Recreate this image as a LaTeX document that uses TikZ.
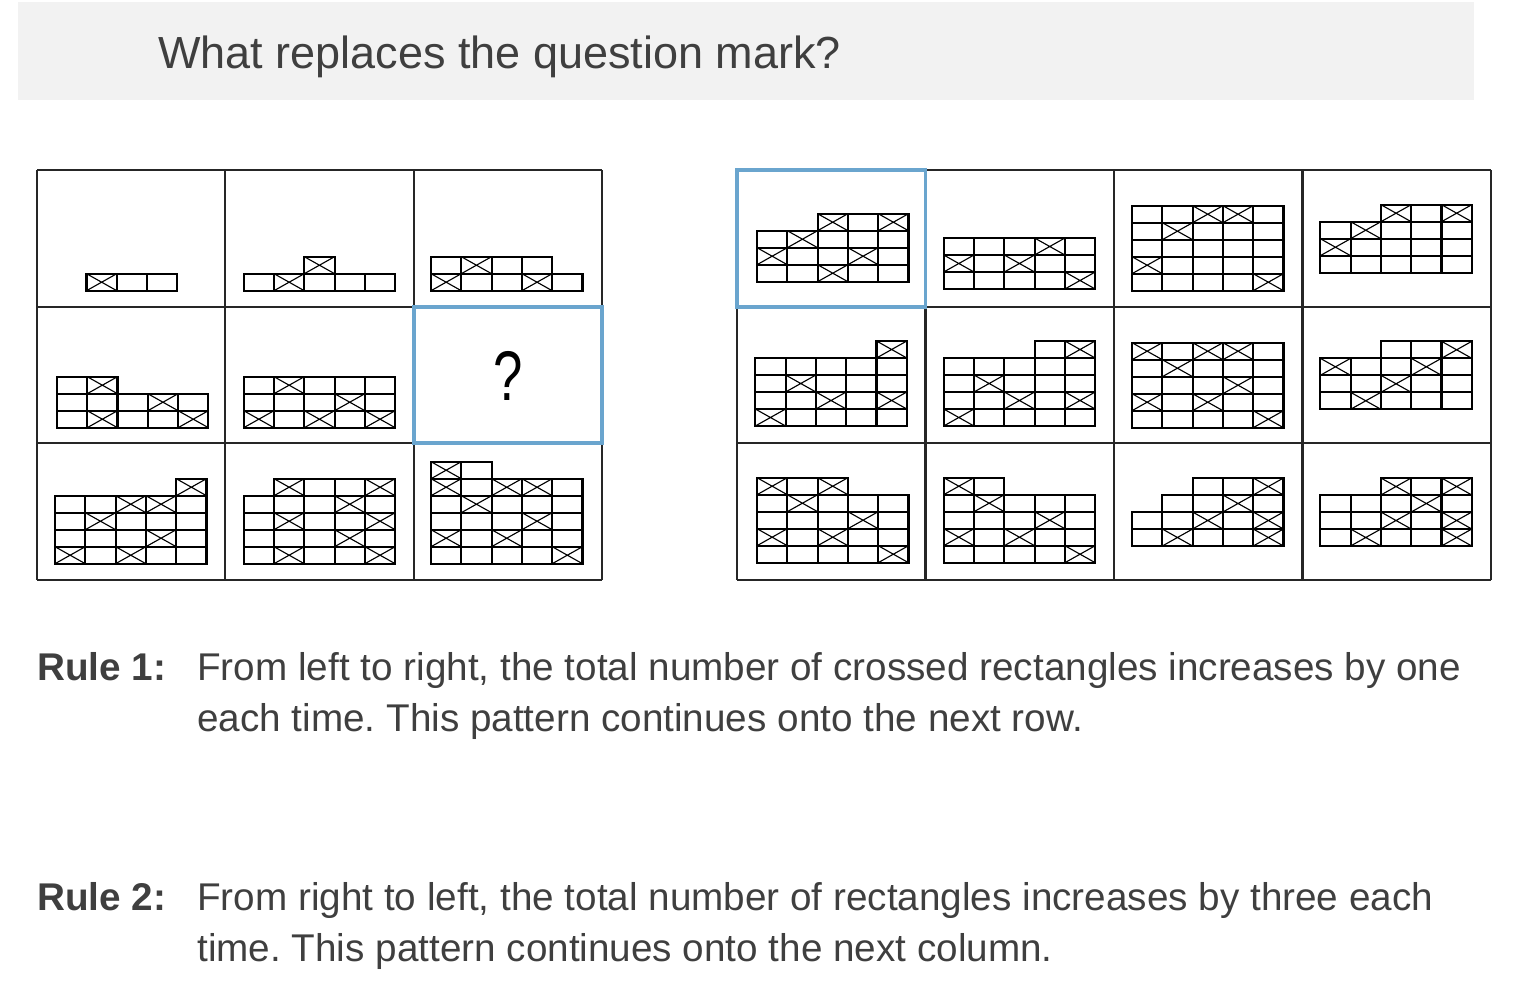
\documentclass[tikz,border=0pt]{standalone}
\usepackage{fontspec}
\setmainfont{Liberation Sans}
\usepackage{tikz}
\frenchspacing

\definecolor{txtgray}{HTML}{3F3F3F}
\definecolor{hdrgray}{HTML}{F2F2F2}
\definecolor{pickblue}{HTML}{6AA5CE}

\newcommand{\blkw}{30.3}
\newcommand{\blkh}{17}
% #1 lower left corner, #2 rows as row/from/to, #3 crossed ones as col/row
\newcommand{\blocks}[3]{%
  \begin{scope}[shift={#1}]
    \foreach \rw/\ca/\cb in {#2}
      \foreach \cx in {\ca,...,\cb}
        \draw[cell] (\cx*\blkw,-\rw*\blkh) rectangle ++(\blkw,-\blkh);
    \foreach \cx/\rw in {#3}
      \draw[cross] (\cx*\blkw,-\rw*\blkh) -- ++(\blkw,-\blkh) ++(-\blkw,0) -- ++(\blkw,\blkh);
  \end{scope}}

\begin{document}
\begin{tikzpicture}[
      x={(0.025cm,0)},  % one pixel to the right
      y={(0,-0.025cm)}, % one pixel down
      board/.style={line width=1.5pt, black!85},
      pick/.style={line width=2.8pt, pickblue},
      cell/.style={line width=1.5pt, black},
      cross/.style={line width=0.8pt, black},
      title/.style={anchor=base west, inner sep=0pt, text=txtgray,
                    font=\fontsize{32}{38}\selectfont},
      rulelbl/.style={anchor=base west, inner sep=0pt, text=txtgray,
                      font=\fontsize{27.5}{33}\selectfont\bfseries},
      ruletxt/.style={anchor=base west, inner sep=0pt, text=txtgray,
                      font=\fontsize{27.5}{33}\selectfont},
    ]
    \useasboundingbox (0,0) rectangle (1522,986);

    % ---- question -------------------------------------------------------
    \fill[hdrgray] (18,2) rectangle (1474,100);
    \node[title] (ask) at (158,68) {What replaces the question mark?};

    % ---- boards ---------------------------------------------------------
    \foreach \i in {0,...,3}{%
      \draw[board] (37+\i*188.33,170) -- (37+\i*188.33,580);
      \draw[board] (37,170+\i*136.67) -- (602,170+\i*136.67);
      \draw[board] (737,170+\i*136.67) -- (1491,170+\i*136.67);
    }
    \foreach \i in {0,...,4}
      \draw[board] (737+\i*188.5,170) -- (737+\i*188.5,580);
    \draw[pick] (413.67,306.67) rectangle (602,443.33);
    \draw[pick] (737,170) rectangle (925.5,306.67);
    \node[font=\fontsize{50}{60}\selectfont, inner sep=0pt] (qmark) at (507.8,376)
      {\scalebox{0.75}[1]{?}};

    % ---- puzzle -----------------------------------------------------------
    \blocks{(86.5,290.7)}{0/0/2}{0/0}
    \blocks{(243.7,290.7)}{0/0/4,1/2/2}{1/0,2/1}
    \blocks{(431,290.7)}{0/0/4,1/0/3}{0/0,3/0,1/1}
    \blocks{(56.9,427.7)}{0/0/4,1/0/4,2/0/1}{1/0,4/0,3/1,1/2}
    \blocks{(243.7,427.7)}{0/0/4,1/0/4,2/0/4}{0/0,2/0,4/0,3/1,1/2}
    \blocks{(55,563.7)}{0/0/4,1/0/4,2/0/4,3/0/4,4/4/4}{0/0,2/0,3/1,1/2,2/3,3/3,4/4}
    \blocks{(243.7,563.7)}{0/0/4,1/0/4,2/0/4,3/0/4,4/1/4}{1/0,4/0,3/1,1/2,4/2,3/3,1/4,4/4}
    \blocks{(431,563.7)}{0/0/4,1/0/4,2/0/4,3/0/4,4/0/4,5/0/1}{4/0,0/1,2/1,3/2,1/3,0/4,2/4,3/4,0/5}

    % ---- choices ----------------------------------------------------------
    \blocks{(757,281.7)}{0/0/4,1/0/4,2/0/4,3/2/4}{2/0,0/1,3/1,1/2,2/3,4/3}
    \blocks{(943.7,289)}{0/0/4,1/0/4,2/0/4}{4/0,0/1,2/1,3/2}
    \blocks{(1132,290.7)}{0/0/4,1/0/4,2/0/4,3/0/4,4/0/4}{4/0,0/1,1/3,2/4,3/4}
    \blocks{(1320.3,272.7)}{0/0/4,1/0/4,2/0/4,3/2/4}{0/1,1/2,2/3,4/3}
    \blocks{(755.3,426)}{0/0/4,1/0/4,2/0/4,3/0/4,4/4/4}{0/0,2/1,4/1,1/2,4/4}
    \blocks{(943.7,426)}{0/0/4,1/0/4,2/0/4,3/0/4,4/3/4}{0/0,2/1,4/1,1/2,4/4}
    \blocks{(1132,427.7)}{0/0/4,1/0/4,2/0/4,3/0/4,4/0/4}{4/0,0/1,2/1,3/2,1/3,0/4,2/4,3/4}
    \blocks{(1320.3,409.3)}{0/0/4,1/0/4,2/0/4,3/2/4}{1/0,2/1,0/2,3/2,4/3}
    \blocks{(757,562.7)}{0/0/4,1/0/4,2/0/4,3/0/4,4/0/2}{4/0,0/1,2/1,3/2,1/3,0/4,2/4}
    \blocks{(943.7,562.7)}{0/0/4,1/0/4,2/0/4,3/0/4,4/0/1}{4/0,0/1,2/1,3/2,1/3,0/4}
    \blocks{(1132,546)}{0/0/4,1/0/4,2/1/4,3/2/4}{1/0,4/0,2/1,4/1,3/2,4/3}
    \blocks{(1320.3,546)}{0/0/4,1/0/4,2/0/4,3/2/4}{1/0,4/0,2/1,4/1,3/2,2/3,4/3}

    % ---- rules ------------------------------------------------------------
    \node[rulelbl] (rule1) at (37,680) {Rule 1:};
    \node[ruletxt] (rule1a) at (197,680)
      {From left to right, the total number of crossed rectangles increases by one};
    \node[ruletxt] (rule1b) at (197,731)
      {each time. This pattern continues onto the next row.};
    \node[rulelbl] (rule2) at (37,910) {Rule 2:};
    \node[ruletxt] (rule2a) at (197,910)
      {From right to left, the total number of rectangles increases by three each};
    \node[ruletxt] (rule2b) at (197,961)
      {time. This pattern continues onto the next column.};
  \end{tikzpicture}
\end{document}
